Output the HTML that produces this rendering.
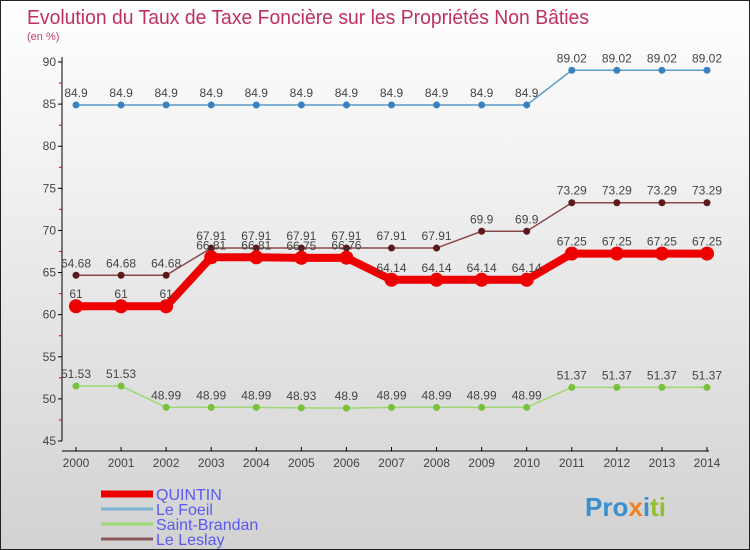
<!DOCTYPE html>
<html><head><meta charset="utf-8"><style>
body{margin:0}
#c{width:748px;height:548px;border:1px solid #222;background:linear-gradient(#fff,#d2d2d2);position:relative;overflow:hidden;font-family:"Liberation Sans","DejaVu Sans",sans-serif}
</style></head><body>
<div id="c">
<svg id="s" width="748" height="548">
<text x="26" y="23" font-size="20" fill="#c0305f" textLength="562" lengthAdjust="spacingAndGlyphs" font-family="Liberation Sans,sans-serif">Evolution du Taux de Taxe Foncière sur les Propriétés Non Bâties</text>
<text x="26" y="39" font-size="11" fill="#c0406f">(en %)</text>
<g id="g"></g>
<g><text x="584" y="515" font-size="26" font-weight="bold" fill="#3a8fd0" font-family="Liberation Sans,sans-serif">Pro<tspan fill="#f08020">x</tspan>i<tspan fill="#90c030">ti</tspan></text></g>
</svg>
</div>
<script>
const years=[2000,2001,2002,2003,2004,2005,2006,2007,2008,2009,2010,2011,2012,2013,2014];
const quintin=[61,61,61,66.81,66.81,66.75,66.76,64.14,64.14,64.14,64.14,67.25,67.25,67.25,67.25];
const leFoeil=[84.9,84.9,84.9,84.9,84.9,84.9,84.9,84.9,84.9,84.9,84.9,89.02,89.02,89.02,89.02];
const saintBrandan=[51.53,51.53,48.99,48.99,48.99,48.93,48.9,48.99,48.99,48.99,48.99,51.37,51.37,51.37,51.37];
const leLeslay=[64.68,64.68,64.68,67.91,67.91,67.91,67.91,67.91,67.91,69.9,69.9,73.29,73.29,73.29,73.29];
const yTicks=[45,50,55,60,65,70,75,80,85,90];
const NS="http://www.w3.org/2000/svg",g=document.getElementById('g');
const X=i=>75+i*(706-75)/14, Y=v=>440-(v-45)*(440-61)/45;
function el(t,a){const e=document.createElementNS(NS,t);for(const k in a)e.setAttribute(k,a[k]);g.appendChild(e);return e;}
let ax=el('line',{x1:61,y1:56,x2:61,y2:440,stroke:'#000'});


let xa=el('line',{x1:61,y1:450,x2:708,y2:450,stroke:'#000'});


yTicks.forEach(v=>{
 el('line',{x1:57,x2:61,y1:Y(v),y2:Y(v),stroke:'#000'});
 if(v<90)el('line',{x1:58,x2:61,y1:Y(v+2.5),y2:Y(v+2.5),stroke:'#d00'});
 const t=el('text',{x:55,y:Y(v)+4,'text-anchor':'end','font-size':12,fill:'#444'});t.textContent=v;
 
 
});
years.forEach((yr,i)=>{
 el('line',{x1:X(i),x2:X(i),y1:446,y2:450,stroke:'#000'});
 const t=el('text',{x:X(i),y:466,'text-anchor':'middle','font-size':12,fill:'#444'});t.textContent=yr;
 
 
});
function series(d,col,dot,w,r,name){
 const p=el('polyline',{points:d.map((v,i)=>X(i)+','+Y(v)).join(' '),fill:'none',stroke:col,'stroke-width':w});
 
 
 d.forEach((v,i)=>{
  const c=el('circle',{cx:X(i),cy:Y(v),r:r,fill:dot});
  
  
  const t=el('text',{x:X(i),y:Y(v)-8,'text-anchor':'middle','font-size':12,fill:'#444'});t.textContent=v;
  
  
 });
}
series(leFoeil,'#5a9ccc','#3a82bf',1.5,3.5,'le-foeil');
series(saintBrandan,'#9dd870','#77c23a',1.5,3.5,'saint-brandan');
series(leLeslay,'#8a4a4a','#5a1a1a',1.5,3.5,'le-leslay');
series(quintin,'#ee0000','#ee0000',8,7,'quintin');
const leg=[['QUINTIN','#ee0000',7],['Le Foeil','#7ab0d0',3],['Saint-Brandan','#9dd870',3],['Le Leslay','#8a5a5a',3]];
leg.forEach((l,i)=>{
 const y=493+i*15;
 const ln=el('line',{x1:100,x2:152,y1:y,y2:y,stroke:l[1],'stroke-width':l[2]});
 
 
 const t=el('text',{x:155,y:y+6,'font-size':16,fill:'#5a5af0'});t.textContent=l[0];
 
 
});
</script>
</body></html>
